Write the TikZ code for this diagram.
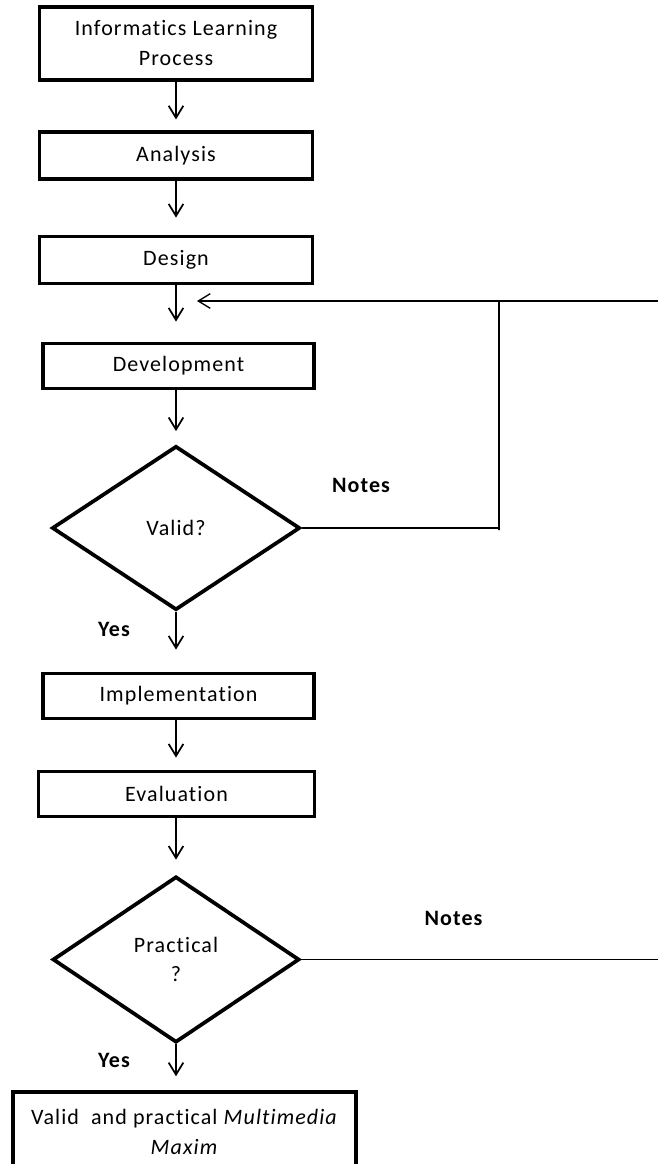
\documentclass[tikz,border=0pt]{standalone}
\usepackage{fontspec}
\setmainfont{Carlito}[LetterSpace=5,Ligatures={NoCommon,NoRare,NoContextual}]
\usetikzlibrary{arrows.meta,shapes.geometric}
\begin{document}
\begin{tikzpicture}[x=0.75pt,y=-0.75pt,
  box/.style={draw,line width=2.6pt,rectangle,inner sep=0pt,align=center,font=\fontsize{16.5}{22.5}\selectfont},
  dia/.style={draw,line width=2.8pt,diamond,inner sep=0pt,align=center,font=\fontsize{16.5}{22}\selectfont},
  lbl/.style={font=\fontsize{16.5}{20}\selectfont\bfseries,inner sep=0pt},
  tip/.style={-{Straight Barb[length=9pt,width=11pt,line width=1.3pt]}},
  arr/.style={line width=1.3pt,tip},
  fb/.style={line width=1pt}]
\useasboundingbox (0,0) rectangle (658,1164);
% nodes
\node[box,minimum width=205pt,minimum height=54.5pt] (n1) at (176,43.5) {Informatics Learning\\Process};
\node[box,minimum width=205pt,minimum height=35pt] (n2) at (176,155.5) {Analysis};
\node[box,minimum width=205pt,minimum height=35.5pt] (n3) at (176,260) {Design};
\node[box,minimum width=203pt,minimum height=34pt] (n4) at (178.5,366) {Development};
\node[dia,minimum width=186pt,minimum height=123pt] (d1) at (176,528) {Valid?};
\node[box,minimum width=203pt,minimum height=34pt] (n5) at (178.5,696) {Implementation};
\node[box,minimum width=207pt,minimum height=34pt] (n6) at (176.5,794) {Evaluation};
\node[dia,minimum width=185pt,minimum height=124.5pt] (d2) at (176,959.5) {Practical\\?};
\node[box,minimum width=257pt,minimum height=60pt] (n7) at (184.5,1132) {Valid\ \ and practical \textit{Multimedia}\\\textit{Maxim}};
% labels
\node[lbl] (notes1) at (361,485) {Notes};
\node[lbl] (notes2) at (453.5,918) {Notes};
\node[lbl] (yes1) at (114,629) {Yes};
\node[lbl] (yes2) at (114,1060) {Yes};
% main arrows
\draw[arr,shorten >=8.25pt] (n1) -- (n2);
\draw[arr,shorten >=12.75pt] (n2) -- (n3);
\draw[arr,shorten >=15pt] (n3.south) -- (n3.south |- n4.north);
\draw[arr,shorten >=9.75pt] (d1.north |- n4.south) -- (d1.north);
\draw[arr,shorten >=16.5pt] (d1.south) -- (d1.south |- n5.north);
\draw[arr,shorten >=9pt] (d1.south |- n5.south) -- (d1.south |- n6.north);
\draw[arr,shorten >=11.25pt] (d2.north |- n6.south) -- (d2.north);
\draw[arr,shorten >=10.5pt] (d2.south) -- (d2.south |- n7.north);
% feedback
\coordinate (r1) at (658,301);
\coordinate (t1) at (197,301);
\coordinate (j) at (499,301);
\coordinate (r2) at (658,959.5);
\draw[fb,-{Straight Barb[length=9pt,width=11pt,line width=1pt]}] (r1) -- (t1);
\draw[fb] (d1.east) -- (d1.east -| j) -- ([yshift=-1.5pt]j |- d1.east) -- (j);
\draw[fb] (d2.east) -- (r2);
\end{tikzpicture}
\end{document}
